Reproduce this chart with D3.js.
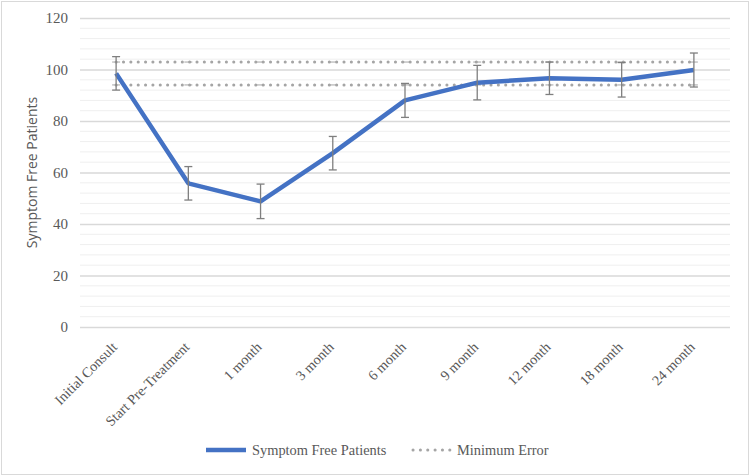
<!DOCTYPE html>
<html><head><meta charset="utf-8">
<script src="https://cdn.jsdelivr.net/npm/d3@7"></script>
<style>body{margin:0;background:#fff}</style>
</head><body>
<svg id="c" width="750" height="476"></svg>
<script>
const categories = ["Initial Consult","Start Pre-Treatment","1 month","3 month","6 month","9 month","12 month","18 month","24 month"];
const symptomFree = [98.5, 55.8, 48.8, 67.5, 88, 94.9, 96.6, 96, 99.8];
const errorAmount = [6.5, 6.5, 6.7, 6.5, 6.6, 6.7, 6.3, 6.7, 6.6];
const minErrorUpper = [102.9, 102.9, 102.9, 102.9, 102.9, 102.9, 102.9, 102.9, 102.9];
const minErrorLower = [94, 94, 94, 94, 94, 94, 94, 94, 94];
const yTicks = [0, 20, 40, 60, 80, 100, 120];

const svg = d3.select("#c");
const W = 750, H = 476;
svg.append("rect").attr("x",1.5).attr("y",1.5).attr("width",W-3).attr("height",H-3)
  .attr("fill","#fff").attr("stroke","#d9d9d9");

const m = {l:80, r:20, t:18, b:149};
const x = d3.scaleBand().domain(categories).range([m.l, W-m.r]);
const y = d3.scaleLinear().domain([0,120]).range([H-m.b, m.t]);
const cx = c => x(c) + x.bandwidth()/2;

// minor gridlines
const minor = d3.range(0, 121, 4).filter(v => v % 20 !== 0);
svg.append("g").selectAll("line").data(minor).join("line")
  .attr("x1", m.l).attr("x2", W-m.r).attr("y1", d=>y(d)).attr("y2", d=>y(d))
  .attr("stroke","#efefef").attr("stroke-width",1);

// major gridlines + labels via axis
const yAxis = d3.axisLeft(y).tickValues(yTicks).tickSize(-(W-m.l-m.r)).tickPadding(12);
const gy = svg.append("g").attr("transform",`translate(${m.l},0)`).call(yAxis);
gy.select(".domain").remove();
gy.selectAll(".tick line").attr("stroke","#d9d9d9").attr("stroke-width",1.3);
gy.selectAll(".tick text").attr("font-family","'Liberation Serif', 'Times New Roman', serif")
  .attr("font-size",15).attr("fill","#595959");

// x labels
const xAxis = d3.axisBottom(x).tickSize(0).tickPadding(0);
const gx = svg.append("g").attr("transform",`translate(0,${H-m.b})`).call(xAxis);
gx.select(".domain").remove();
gx.selectAll(".tick text")
  .attr("font-family","'Liberation Serif', 'Times New Roman', serif")
  .attr("font-size",14.2).attr("fill","#595959")
  .attr("text-anchor","end")
  .attr("dy",null).attr("y",0)
  .attr("transform","translate(2,21) rotate(-45)");

// y title
svg.append("text").attr("transform",`translate(37,${y(60)}) rotate(-90)`)
  .attr("text-anchor","middle").attr("font-family","'Open Sans', 'Noto Sans', sans-serif")
  .attr("font-size",14).attr("fill","#595959").text("Symptom Free Patients");

// minimum error dotted lines
const lineGen = d3.line().x((d,i)=>cx(categories[i])).y(d=>y(d));
[minErrorUpper, minErrorLower].forEach(arr => {
  svg.append("path").datum(arr).attr("d", lineGen).attr("fill","none")
    .attr("stroke","#a5a5a5").attr("stroke-width",3)
    .attr("stroke-dasharray","0.1 7.25").attr("stroke-linecap","round");
  svg.append("g").selectAll("line").data(arr).join("line")
    .attr("x1",(d,i)=>cx(categories[i])-4).attr("x2",(d,i)=>cx(categories[i])+4)
    .attr("y1",d=>y(d)).attr("y2",d=>y(d))
    .attr("stroke","#a5a5a5").attr("stroke-width",1);
});

// main line
svg.append("path").datum(symptomFree).attr("d", lineGen).attr("fill","none")
  .attr("stroke","#4472c4").attr("stroke-width",4.5).attr("stroke-linejoin","round");

// error bars
const eb = svg.append("g").attr("stroke","#7f7f7f").attr("stroke-width",1.3);
symptomFree.forEach((v,i) => {
  const xc = cx(categories[i]);
  const lo = y(v-errorAmount[i]), hi = y(v+errorAmount[i]);
  eb.append("line").attr("x1",xc).attr("x2",xc).attr("y1",lo).attr("y2",hi);
  eb.append("line").attr("x1",xc-4).attr("x2",xc+4).attr("y1",lo).attr("y2",lo);
  eb.append("line").attr("x1",xc-4).attr("x2",xc+4).attr("y1",hi).attr("y2",hi);
});

// legend
const lg = svg.append("g").attr("font-family","'Liberation Serif', 'Times New Roman', serif")
  .attr("font-size",14.4).attr("fill","#595959");
lg.append("line").attr("x1",206).attr("x2",246).attr("y1",450).attr("y2",450)
  .attr("stroke","#4472c4").attr("stroke-width",4.5);
lg.append("text").attr("x",252).attr("y",455).text("Symptom Free Patients");
lg.append("line").attr("x1",413).attr("x2",451).attr("y1",450).attr("y2",450)
  .attr("stroke","#a5a5a5").attr("stroke-width",3).attr("stroke-dasharray","0.1 7.25").attr("stroke-linecap","round");
lg.append("text").attr("x",457).attr("y",455).text("Minimum Error");
</script>
</body></html>
